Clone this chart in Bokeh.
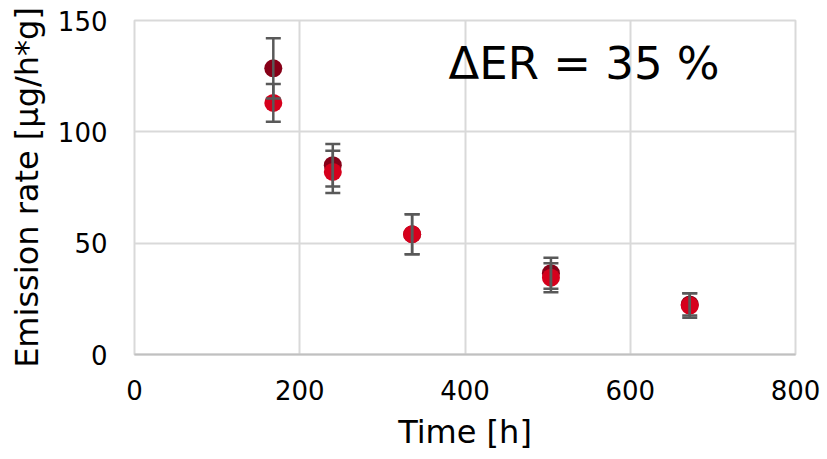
from bokeh.plotting import figure
from bokeh.models import ColumnDataSource, Whisker, TeeHead, Label, Range1d, SingleIntervalTicker
from bokeh.embed import file_html
from bokeh.resources import INLINE

# data
time_h = [168, 240, 336, 504, 672]
er_dark = [128.5, 85.0, 54.0, 36.5, 22.5]
err_dark = [13.5, 9.5, 9.0, 7.0, 5.0]
er_red = [113.0, 82.0, 54.0, 34.5, 22.0]
err_red = [8.5, 9.5, 9.0, 6.5, 5.5]
x_ticks_interval = 200
y_ticks_interval = 50
annotation = "ΔER = 35 %"

FONT = "DejaVu Sans"

p = figure(width=827, height=459, output_backend="svg", toolbar_location=None,
           x_range=Range1d(0, 800), y_range=Range1d(0, 150),
           min_border_left=134, min_border_right=32, min_border_top=20, min_border_bottom=105)
p.background_fill_color = "white"
p.border_fill_color = "white"
p.outline_line_color = "#d9d9d9"
p.outline_line_width = 2

for ax in (p.xaxis, p.yaxis):
    ax.major_tick_line_color = None
    ax.minor_tick_line_color = None
    ax.major_tick_out = 0
    ax.major_tick_in = 0
    ax.minor_tick_out = 0
    ax.minor_tick_in = 0
    ax.major_label_text_font = FONT
    ax.major_label_text_font_size = "26px"
    ax.major_label_text_color = "black"
    ax.axis_label_text_font = FONT
    ax.axis_label_text_font_size = "32px"
    ax.axis_label_text_font_style = "normal"
    ax.axis_label_text_color = "black"

p.xaxis.ticker = SingleIntervalTicker(interval=x_ticks_interval)
p.yaxis.ticker = SingleIntervalTicker(interval=y_ticks_interval)
p.xaxis.axis_label = "Time [h]"
p.yaxis.axis_label = "Emission rate [µg/h*g]"
p.xaxis.axis_line_color = "#c0c0c0"
p.xaxis.axis_line_width = 2
p.yaxis.axis_line_color = None
p.xaxis.major_label_standoff = 25
p.yaxis.major_label_standoff = 27
p.xaxis.axis_label_standoff = 10
p.yaxis.axis_label_standoff = 9

p.grid.grid_line_color = "#d9d9d9"
p.grid.grid_line_width = 2

src_d = ColumnDataSource(dict(x=time_h, y=er_dark,
                              lo=[a - b for a, b in zip(er_dark, err_dark)],
                              hi=[a + b for a, b in zip(er_dark, err_dark)]))
src_r = ColumnDataSource(dict(x=time_h, y=er_red,
                              lo=[a - b for a, b in zip(er_red, err_red)],
                              hi=[a + b for a, b in zip(er_red, err_red)]))

for src in (src_d, src_r):
    w = Whisker(base="x", upper="hi", lower="lo", source=src,
                line_color="#595959", line_width=2.5,
                upper_head=TeeHead(size=15, line_color="#595959", line_width=2.5),
                lower_head=TeeHead(size=15, line_color="#595959", line_width=2.5),
                level="glyph")
    p.add_layout(w)

p.scatter("x", "y", source=src_d, size=18, fill_color="#870018", line_color="#870018", line_width=0)
p.scatter("x", "y", source=src_r, size=18, fill_color="#D6001C", line_color="#D6001C", line_width=0)

lab = Label(x=380, y=130.5, text=annotation, text_font=FONT, text_font_size="45px",
            text_color="black", text_baseline="alphabetic", text_align="left")
p.add_layout(lab)

open("out.html", "w").write(file_html(p, INLINE))
